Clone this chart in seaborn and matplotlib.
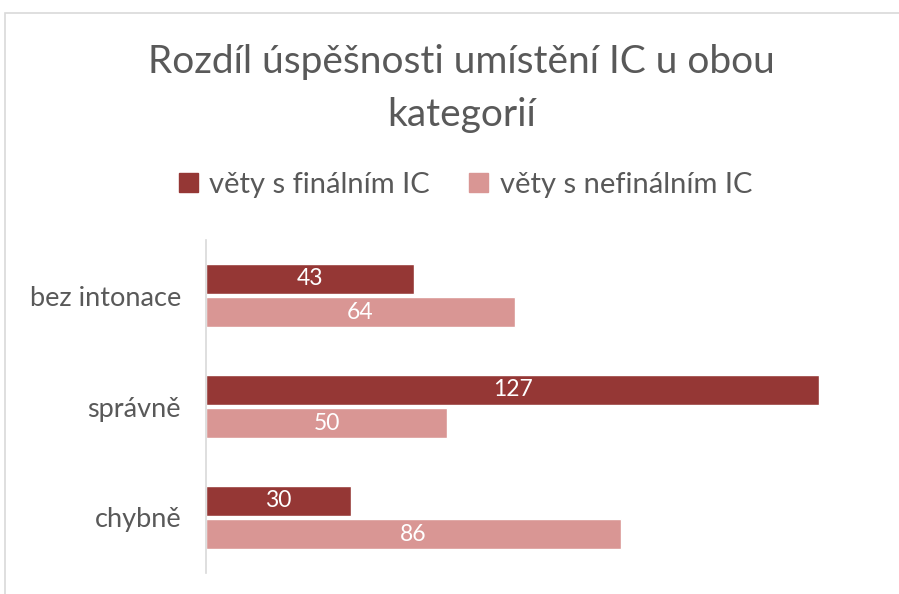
import matplotlib
matplotlib.use('Agg')
import matplotlib.pyplot as plt
import matplotlib.patches as mpatches
import seaborn as sns
import pandas as pd

# data
categories = ['bez intonace', 'správně', 'chybně']
series = ['věty s finálním IC', 'věty s nefinálním IC']
finalni = [43, 127, 30]
nefinalni = [64, 50, 86]

colors = ['#953735', '#D99694']
text_col = '#595959'

df = pd.DataFrame({
    'kategorie': categories * 2,
    'typ': [series[0]] * 3 + [series[1]] * 3,
    'hodnota': finalni + nefinalni,
})

sns.set_style('white')
plt.rcParams['font.family'] = ['Lato', 'DejaVu Sans']

fig = plt.figure(figsize=(8.99, 5.94), dpi=100)
ax = fig.add_axes([206 / 899, 21 / 594, (882 - 206) / 899, 333 / 594])

sns.barplot(data=df, y='kategorie', x='hodnota', hue='typ', order=categories,
            hue_order=series, palette=colors, width=0.6, gap=0.1,
            orient='h', ax=ax, legend=False, saturation=1)

for cont in ax.containers:
    ax.bar_label(cont, label_type='center', color='white', fontsize=16.5)

ax.set_xlim(0, 140)
ax.set_ylim(2.5, -0.5)
ax.set_xlabel('')
ax.set_ylabel('')
ax.set_xticks([])
ax.tick_params(axis='y', length=0, pad=18, labelsize=19.5, labelcolor=text_col)
for s in ['top', 'right', 'bottom']:
    ax.spines[s].set_visible(False)
ax.spines['left'].set_color('#D9D9D9')
ax.spines['left'].set_linewidth(1.2)

fig.text(0.513, 1 - 62 / 594, 'Rozdíl úspěšnosti umístění IC u obou', ha='center',
         va='center', fontsize=28, color=text_col)
fig.text(0.513, 1 - 115 / 594, 'kategorií', ha='center', va='center',
         fontsize=28, color=text_col)

handles = [mpatches.Patch(color=c, label=l) for c, l in zip(colors, series)]
fig.legend(handles=handles, loc='center', bbox_to_anchor=(0.518, 1 - 185 / 594),
           ncol=2, frameon=False, fontsize=21, handlelength=0.65, handleheight=0.65,
           columnspacing=1.35, handletextpad=0.4, labelcolor=text_col)

# outer chart frame
fig.add_artist(plt.Rectangle((5 / 899, -0.1), 1.1, 1 - 13 / 594 + 0.1,
                             transform=fig.transFigure, fill=False,
                             edgecolor='#D9D9D9', linewidth=1.2))

fig.savefig('out.png', dpi=100)
